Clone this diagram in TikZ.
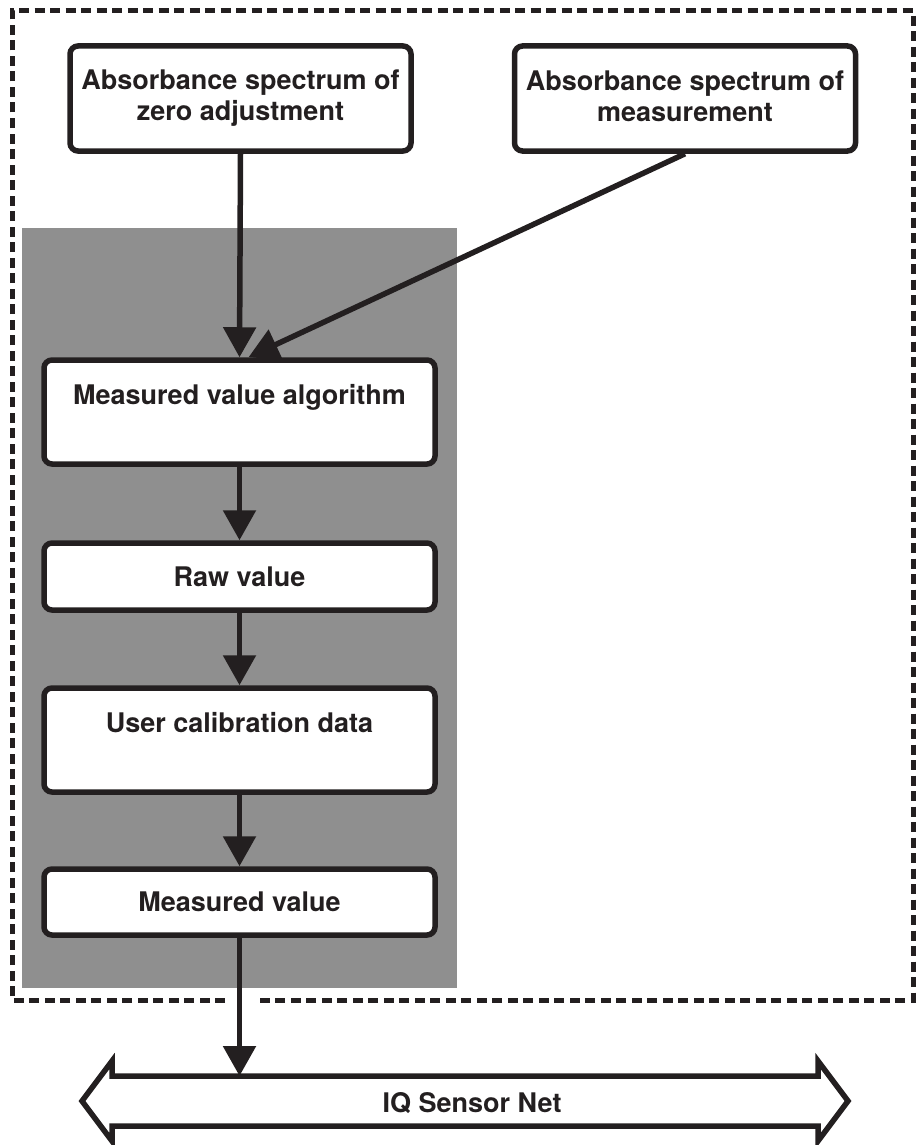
\documentclass[tikz,border=0pt]{standalone}
\usepackage{fontspec}
\setmainfont{TeX Gyre Heros}
\usetikzlibrary{arrows.meta}
\definecolor{ink}{RGB}{35,31,32}
\definecolor{greyfill}{RGB}{143,143,143}
\begin{document}
\begin{tikzpicture}[x=1pt,y=-1pt,
  box/.style={draw=ink, line width=5.5pt, rounded corners=8pt, fill=white, align=center,
    text=ink, font=\bfseries\fontsize{27}{31}\selectfont, inner sep=0pt, minimum width=391pt},
  arr/.style={draw=ink, line width=5.5pt, -{Triangle[width=32pt,length=30pt]}},
  border/.style={draw=ink, line width=5pt, dash pattern=on 10pt off 5.5pt},
  ]
\useasboundingbox (0,0) rectangle (922,1145);
\fill[greyfill] (22,228) rectangle (457,988);
\draw[border] (225,1000) -- (12,1000) -- (12,11) -- (913,11) -- (913,1000) -- (256,1000);

\node[box, minimum width=341pt, minimum height=105pt] (zero) at (240.5,98.5) {Absorbance spectrum of\\zero adjustment\rule[-4pt]{0pt}{1pt}};
\node[box, minimum width=341pt, minimum height=105pt] (meas) at (685,98.5) {Absorbance spectrum of\\measurement\rule[-4pt]{0pt}{1pt}};
\node[box, minimum height=104pt] (alg) at (239.5,412) {Measured value algorithm\\\rule[-4pt]{0pt}{1pt}};
\node[box, minimum height=67pt] (raw) at (239.5,576.5) {Raw value};
\node[box, minimum height=104pt] (cal) at (239.5,740) {User calibration data\\\rule[-4pt]{0pt}{1pt}};
\node[box, minimum height=66pt] (mv) at (239.5,902) {Measured value};

\draw[ink, line width=5.5pt, fill=white, line join=miter]
  (82,1101) -- (112,1061) -- (112,1076) -- (818,1076) -- (818,1061) -- (848,1101)
  -- (818,1141) -- (818,1126) -- (112,1126) -- (112,1141) -- cycle;
\node[text=ink, font=\bfseries\fontsize{27}{31}\selectfont] (net) at (472,1103) {IQ Sensor Net};
\coordinate (netTop) at (239.5,1076);

\draw[arr] (zero.south) -- (alg.north);
\draw[arr] (meas.south) -- ([xshift=9pt]alg.north);
\draw[arr] (alg.south) -- (raw.north);
\draw[arr] (raw.south) -- (cal.north);
\draw[arr] (cal.south) -- (mv.north);
\draw[arr] (mv.south) -- (netTop);
\end{tikzpicture}
\end{document}
